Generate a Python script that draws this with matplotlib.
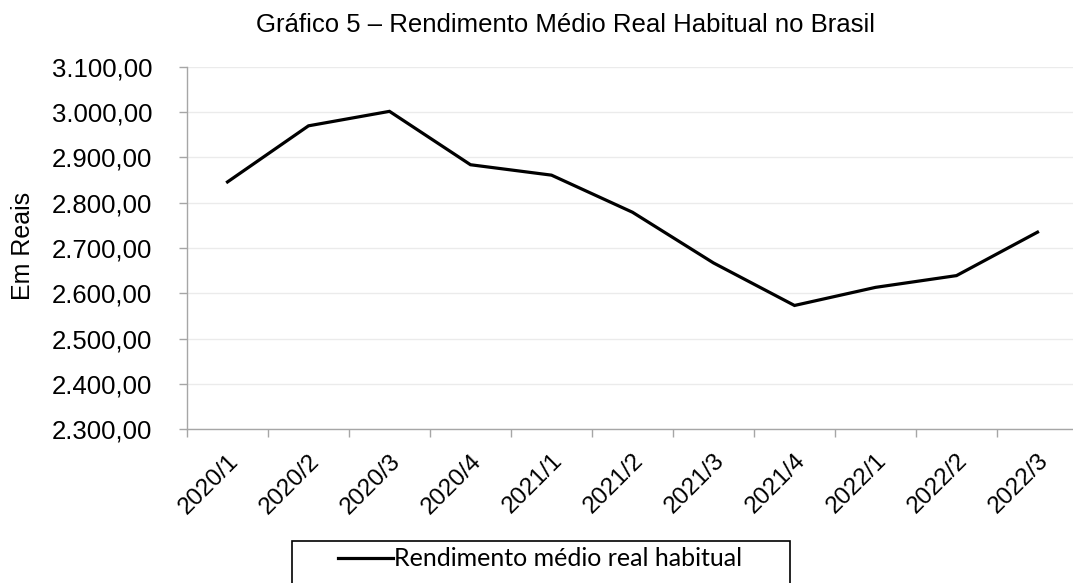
import matplotlib
matplotlib.use('Agg')
import matplotlib.pyplot as plt
from matplotlib.patches import Rectangle
from matplotlib.ticker import FixedLocator, FuncFormatter

# data
quarters = ['2020/1', '2020/2', '2020/3', '2020/4', '2021/1', '2021/2',
            '2021/3', '2021/4', '2022/1', '2022/2', '2022/3']
rendimento = [2846, 2970, 3002, 2884, 2861, 2779, 2667, 2573, 2613, 2639, 2735]
y_ticks = [2300, 2400, 2500, 2600, 2700, 2800, 2900, 3000, 3100]

title = 'Gráfico 5 – Rendimento Médio Real Habitual no Brasil'
ylabel = 'Em Reais'
series_name = 'Rendimento médio real habitual'

plt.rcParams['font.family'] = ['Liberation Sans', 'DejaVu Sans']

W, H = 1073, 583
fig = plt.figure(figsize=(W / 100, H / 100), dpi=100)

# axes box in pixels: left 187, right 1078 (cut by the figure), top 67, bottom 429
ax = fig.add_axes([187 / W, 1 - 429 / H, (1078 - 187) / W, (429 - 67) / H])

x = list(range(len(quarters)))
line, = ax.plot(x, rendimento, color='black', lw=2.3, solid_joinstyle='miter',
                label=series_name)

ax.set_xlim(-0.5, len(quarters) - 0.5)
ax.set_ylim(y_ticks[0], y_ticks[-1])

# ticks between categories, labels at category centres
ax.xaxis.set_major_locator(FixedLocator([i - 0.5 for i in range(len(quarters) + 1)]))
ax.xaxis.set_major_formatter(FuncFormatter(lambda v, p: ''))
ax.set_xticks(x, quarters, minor=True)
ax.tick_params(axis='x', which='major', length=6, width=1, color='#a6a6a6', direction='out')
ax.tick_params(axis='x', which='minor', length=0, labelsize=17.5, pad=15)
for lab in ax.get_xticklabels(minor=True):
    lab.set_rotation(45)
    lab.set_ha('right')
    lab.set_va('top')
    lab.set_rotation_mode('anchor')


def br_fmt(v, pos):
    s = '{:,.2f}'.format(v)
    return s.replace(',', 'X').replace('.', ',').replace('X', '.')


ax.yaxis.set_major_locator(FixedLocator(y_ticks))
ax.yaxis.set_major_formatter(FuncFormatter(br_fmt))
ax.tick_params(axis='y', length=6, width=1, color='#a6a6a6', labelsize=18.5, pad=19)

ax.grid(axis='y', color='#ebebeb', lw=1)
ax.set_axisbelow(True)
for side in ['top', 'right']:
    ax.spines[side].set_visible(False)
for side in ['left', 'bottom']:
    ax.spines[side].set_color('#a6a6a6')
    ax.spines[side].set_linewidth(1)

fig.text(565 / W, 1 - 32 / H, title, ha='center', va='baseline', fontsize=18.5)
fig.text(23 / W, 1 - 246 / H, ylabel, ha='center', va='center', rotation=90, fontsize=18)

# legend box (bottom edge runs off the figure)
fig.patches.append(Rectangle((292 / W, 1 - 590 / H), (790 - 292) / W, (590 - 541) / H,
                             transform=fig.transFigure, fill=False, edgecolor='black',
                             lw=1.2))
fig.legend(handles=[line], loc='center left', bbox_to_anchor=(338 / W, 1 - 559 / H),
           frameon=False, handlelength=2.2, handletextpad=0.05, borderpad=0,
           borderaxespad=0, prop={'family': ['Lato', 'Liberation Sans'], 'size': 18})

fig.savefig('out.png', dpi=100)
